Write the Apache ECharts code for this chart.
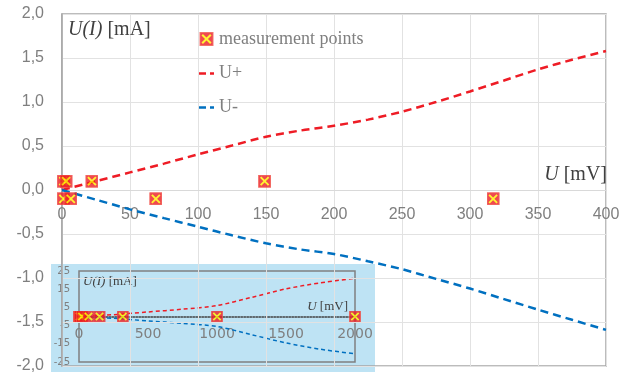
<!DOCTYPE html>
<html><head><meta charset="utf-8">
<script src="https://cdn.jsdelivr.net/npm/echarts@6/dist/echarts.min.js"></script>
<style>html,body{margin:0;padding:0;background:#fff}#c{width:630px;height:372px}</style>
</head><body><div id="c"></div>
<script>
// ---- data ----
const curveU      = [0, 25, 50, 75, 100, 125, 150, 175, 200, 225, 250, 275, 300, 325, 350, 375, 400];
const curvePlus   = [0, 0.10, 0.20, 0.30, 0.405, 0.505, 0.605, 0.675, 0.73, 0.80, 0.89, 1.00, 1.12, 1.245, 1.37, 1.48, 1.58];
const curveMinus  = [0, -0.11, -0.22, -0.32, -0.417, -0.515, -0.606, -0.675, -0.727, -0.81, -0.90, -1.01, -1.12, -1.24, -1.36, -1.475, -1.59];
const measU       = [1, 1, 3, 6.5, 22, 69, 149, 317];
const measI       = [0.1, -0.1, 0.1, -0.1, 0.1, -0.1, 0.1, -0.1];
const insetU      = [0, 250, 500, 750, 1000, 1250, 1500, 1750, 2000];
const insetPlus   = [0, 1.0, 2.5, 4.0, 6.0, 10.5, 15.2, 18.5, 21.0];
const insetMinus  = [0, -1.0, -2.4, -3.8, -5.5, -10.0, -14.5, -18.0, -20.5];
const insetMeasU  = [1, 3, 6.5, 22, 69, 149, 317, 1000, 2000];
const insetMeasI  = [0, 0, 0, 0, 0, 0, 0, 0, 0];
const legendNames = ['measurement points', 'U+', 'U-'];

const RED = '#ee1c25', BLUE = '#0070c0', GRAY = '#7f7f7f';

const svgUri = s => 'image://data:image/svg+xml;charset=utf-8,' + encodeURIComponent(s);
const markerImg = svgUri("<svg xmlns='http://www.w3.org/2000/svg' width='26' height='26' viewBox='0 0 13 13'>" +
  "<rect x='0' y='0' width='13' height='13' fill='#ec1c24'/>" +
  "<rect x='0.4' y='0.4' width='12.2' height='12.2' fill='none' stroke='#f25a4a' stroke-width='0.8'/>" +
  "<path d='M2.5 2.5L10.5 10.5M10.5 2.5L2.5 10.5' stroke='#fff200' stroke-width='1.9'/></svg>");
const dashIcon = c => svgUri("<svg xmlns='http://www.w3.org/2000/svg' width='30' height='28' viewBox='0 0 15 14'>" +
  "<path d='M0 7.5H7M11 7.5H15' stroke='" + c + "' stroke-width='2.5'/></svg>");

const pairs = (xs, ys) => xs.map((x, i) => [x, ys[i]]);

const chart = echarts.init(document.getElementById('c'), null, {renderer: 'canvas'});
chart.setOption({
  animation: false,
  backgroundColor: '#fff',
  grid: [
    {left: 62, top: 14, right: 24, bottom: 6, show: true, borderColor: '#a6a6a6', borderWidth: 1.5, z: 0,
     containLabel: false, outerBoundsMode: 'none'},
    {left: 79, top: 271, width: 276, height: 91, show: true, borderColor: '#808080', borderWidth: 1.5, z: -5,
     containLabel: false, outerBoundsMode: 'none'}
  ],
  xAxis: [
    {type: 'value', gridIndex: 0, min: 0, max: 400, interval: 50, position: 'bottom', offset: -176,
     axisLine: {onZero: false, lineStyle: {color: '#d9d9d9', width: 1}},
     axisTick: {show: false},
     axisLabel: {color: GRAY, fontSize: 16, fontFamily: 'Liberation Sans', margin: 17, formatter: v => String(v)},
     splitLine: {lineStyle: {color: '#e2e2e2', width: 1}}},
    {type: 'value', gridIndex: 1, min: 0, max: 2000, interval: 500, z: -4, position: 'bottom', offset: -45.5,
     axisLine: {onZero: false, lineStyle: {color: '#404040', width: 1.5, type: 'dotted'}},
     axisTick: {show: false},
     axisLabel: {color: GRAY, fontSize: 14, fontFamily: 'DejaVu Sans', margin: 11, formatter: v => String(v)},
     splitLine: {show: false}}
  ],
  yAxis: [
    {type: 'value', gridIndex: 0, min: -2, max: 2, interval: 0.5,
     axisLine: {show: true, onZero: false, lineStyle: {color: '#a6a6a6', width: 1.5}},
     axisTick: {show: false},
     axisLabel: {color: GRAY, fontSize: 16, fontFamily: 'Liberation Sans', margin: 18,
                 formatter: v => v.toFixed(1).replace('.', ',')},
     splitLine: {lineStyle: {color: '#e2e2e2', width: 1}}},
    {type: 'value', gridIndex: 1, min: -25, max: 25, interval: 10, z: -4,
     axisLine: {show: false, onZero: false}, axisTick: {show: false},
     axisLabel: {color: GRAY, fontSize: 10, fontFamily: 'DejaVu Sans', margin: 9, formatter: v => String(v)},
     splitLine: {show: false}}
  ],
  legend: {
    left: 199, top: 30, orient: 'vertical', padding: 0,
    itemWidth: 15, itemHeight: 14, itemGap: 16,
    textStyle: {fontFamily: 'Liberation Serif', fontSize: 18, color: GRAY, lineHeight: 18},
    selectedMode: false,
    data: [{name: legendNames[0], icon: markerImg},
           {name: legendNames[1], icon: dashIcon(RED)},
           {name: legendNames[2], icon: dashIcon(BLUE)}]
  },
  graphic: [
    {type: 'rect', z: -10, silent: true, shape: {x: 51, y: 264, width: 324, height: 108},
     style: {fill: '#bee3f4'}},
    {type: 'text', z: 10, x: 68, y: 30, silent: true,
     style: {text: '{i|U(I)} [mA]', fill: '#404040', font: '20px "Liberation Serif"', verticalAlign: 'middle',
             rich: {i: {fontStyle: 'italic', fontSize: 20, fontFamily: 'Liberation Serif', fill: '#404040'}}}},
    {type: 'text', z: 10, x: 607, y: 175, silent: true,
     style: {text: '{i|U} [mV]', fill: '#404040', font: '20px "Liberation Serif"', align: 'right', verticalAlign: 'middle',
             rich: {i: {fontStyle: 'italic', fontSize: 20, fontFamily: 'Liberation Serif', fill: '#404040'}}}},
    {type: 'text', z: -3, x: 83, y: 282, silent: true,
     style: {text: '{i|U(I)} [mA]', fill: '#404040', font: '13px "Liberation Serif"', verticalAlign: 'middle',
             rich: {i: {fontStyle: 'italic', fontSize: 13, fontFamily: 'Liberation Serif', fill: '#404040'}}}},
    {type: 'text', z: -3, x: 348, y: 306.5, silent: true,
     style: {text: '{i|U} [mV]', fill: '#404040', font: '13px "Liberation Serif"', align: 'right', verticalAlign: 'middle',
             rich: {i: {fontStyle: 'italic', fontSize: 13, fontFamily: 'Liberation Serif', fill: '#404040'}}}}
  ],
  series: [
    {name: legendNames[1], type: 'line', xAxisIndex: 0, yAxisIndex: 0, data: pairs(curveU, curvePlus),
     symbol: 'none', smooth: 0.3, z: 3, itemStyle: {color: RED},
     lineStyle: {color: RED, width: 2.5, type: [8, 5]}},
    {name: legendNames[2], type: 'line', xAxisIndex: 0, yAxisIndex: 0, data: pairs(curveU, curveMinus),
     symbol: 'none', smooth: 0.3, z: 3, itemStyle: {color: BLUE},
     lineStyle: {color: BLUE, width: 2.5, type: [8, 5]}},
    {name: legendNames[0], type: 'scatter', xAxisIndex: 0, yAxisIndex: 0, data: pairs(measU, measI),
     symbol: markerImg, symbolSize: 13, z: 5, itemStyle: {color: RED}},
    {name: 'inset U+', type: 'line', xAxisIndex: 1, yAxisIndex: 1, data: pairs(insetU, insetPlus),
     symbol: 'none', smooth: 0.3, z: -3, lineStyle: {color: RED, width: 1.5, type: [4, 3]}},
    {name: 'inset U-', type: 'line', xAxisIndex: 1, yAxisIndex: 1, data: pairs(insetU, insetMinus),
     symbol: 'none', smooth: 0.3, z: -3, lineStyle: {color: BLUE, width: 1.5, type: [4, 3]}},
    {name: 'inset points', type: 'scatter', xAxisIndex: 1, yAxisIndex: 1, data: pairs(insetMeasU, insetMeasI),
     symbol: markerImg, symbolSize: 12, z: -2, itemStyle: {color: RED}}
  ]
});
</script>
</body></html>
